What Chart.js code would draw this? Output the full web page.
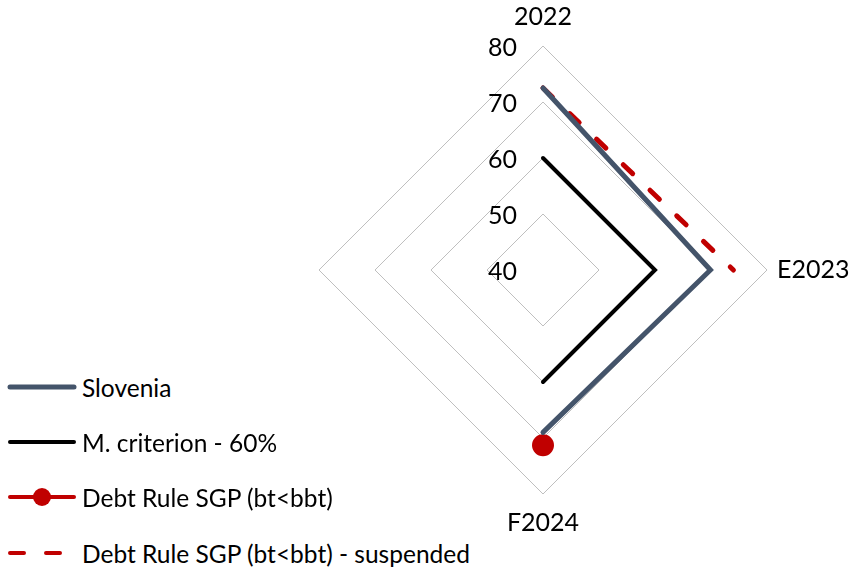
<!DOCTYPE html>
<html lang="en">

<head>
    <meta charset="UTF-8">
    <title>Debt radar</title>
    <style>
        html,
        body {
            width: 851px;
            height: 574px;
            padding: 0;
            margin: 0;
            overflow: hidden;
            background: #fff;
        }

        body {
            position: relative;
            font-family: Lato, sans-serif;
        }

        .chart-container {
            position: absolute;
            left: 183px;
            top: 2px;
            width: 720px;
            height: 536px;
        }

        .legend {
            position: absolute;
            left: 0;
            top: 0;
            z-index: 2;
        }

        .legend-item {
            position: absolute;
            left: 7px;
            height: 30px;
            display: flex;
            align-items: center;
            white-space: nowrap;
            font-size: 24.5px;
            color: #000;
        }

        .sample {
            position: relative;
            width: 70px;
            height: 30px;
            margin-right: 5px;
        }
    </style>
</head>

<body>
    <div class="chart-container">
        <canvas id="debtChart"></canvas>
    </div>
    <div class="legend" id="legend"></div>
</body>

<script src="https://cdn.jsdelivr.net/npm/chart.js@4.4.6/dist/chart.umd.min.js"></script>
<script>
    const categories = ['2022', 'E2023', 'F2024', ''];
    const tickValues = [40, 50, 60, 70, 80];

    const slovenia = [72.5, 69.9, 69.0, null];
    const mCriterion = [60, 60, 60, null];
    const debtRule = [null, null, 71.3, null];
    const debtRuleSuspended = [72.5, 74.0, null, null];

    const seriesNames = ['Slovenia', 'M. criterion - 60%', 'Debt Rule SGP (bt<bbt)', 'Debt Rule SGP (bt<bbt) - suspended'];

    const slate = '#44546A';
    const red = '#C00000';
    const fontFamily = 'Lato, sans-serif';

    // tick labels sit left of the vertical axis, so draw them ourselves
    const tickLabelPlugin = {
        id: 'tickLabels',
        afterDatasetsDraw(chart) {
            const scale = chart.scales.r;
            const ctx = chart.ctx;
            ctx.save();
            ctx.font = '25px ' + fontFamily;
            ctx.fillStyle = '#000';
            ctx.textAlign = 'right';
            ctx.textBaseline = 'middle';
            tickValues.forEach(v => {
                const d = scale.getDistanceFromCenterForValue(v);
                ctx.fillText(String(v), scale.xCenter - 26, scale.yCenter - d + 2);
            });
            ctx.restore();
        }
    };

    const chart = new Chart(document.getElementById('debtChart'), {
        type: 'radar',
        data: {
            labels: categories,
            datasets: [{
                label: seriesNames[0],
                data: slovenia,
                borderColor: slate,
                borderWidth: 5,
                pointRadius: 0,
                fill: false,
                spanGaps: false,
                borderCapStyle: 'round',
                borderJoinStyle: 'miter',
            }, {
                label: seriesNames[1],
                data: mCriterion,
                borderColor: '#000',
                borderWidth: 4,
                pointRadius: 0,
                fill: false,
                spanGaps: false,
                borderCapStyle: 'round',
                borderJoinStyle: 'miter',
            }, {
                label: seriesNames[2],
                data: debtRule,
                borderColor: red,
                backgroundColor: red,
                pointBackgroundColor: red,
                pointBorderColor: red,
                pointRadius: 9,
                borderWidth: 4,
                fill: false,
            }, {
                label: seriesNames[3],
                data: debtRuleSuspended,
                borderColor: red,
                borderWidth: 5,
                borderDash: [13, 24],
                borderCapStyle: 'round',
                pointRadius: 0,
                fill: false,
                spanGaps: false,
            }]
        },
        options: {
            responsive: true,
            maintainAspectRatio: false,
            animation: false,
            layout: { padding: 0 },
            scales: {
                r: {
                    min: 40,
                    max: 80,
                    startAngle: 0,
                    ticks: { display: false, stepSize: 10 },
                    grid: { color: '#BFBFBF', lineWidth: 1 },
                    angleLines: { display: false },
                    pointLabels: {
                        // right label sits a bit closer to the grid
                        padding: (ctx) => ctx.index === 1 ? 10 : 14,
                        color: '#000',
                        font: { family: fontFamily, size: 25 },
                    },
                }
            },
            plugins: {
                legend: { display: false },
                tooltip: { enabled: false },
            },
        },
        plugins: [tickLabelPlugin]
    });

    // html legend with drawn line samples
    const legend = document.getElementById('legend');
    const rowY = [387, 442, 497, 553];
    seriesNames.forEach((name, i) => {
        const item = document.createElement('div');
        item.className = 'legend-item';
        item.style.top = (rowY[i] - 15) + 'px';
        const sample = document.createElement('canvas');
        sample.className = 'sample';
        sample.width = 70;
        sample.height = 30;
        const c = sample.getContext('2d');
        c.lineCap = 'round';
        if (i === 0) { c.strokeStyle = slate; c.lineWidth = 5; }
        if (i === 1) { c.strokeStyle = '#000'; c.lineWidth = 4; }
        if (i >= 2) { c.strokeStyle = red; c.lineWidth = 4; }
        if (i === 3) c.setLineDash([14, 22]);
        c.beginPath();
        c.moveTo(3, 15);
        c.lineTo(67, 15);
        c.stroke();
        if (i === 2) {
            c.fillStyle = red;
            c.beginPath();
            c.arc(35, 15, 9, 0, Math.PI * 2);
            c.fill();
        }
        item.appendChild(sample);
        const label = document.createElement('span');
        label.textContent = name;
        item.appendChild(label);
        legend.appendChild(item);
    });
</script>

</html>
